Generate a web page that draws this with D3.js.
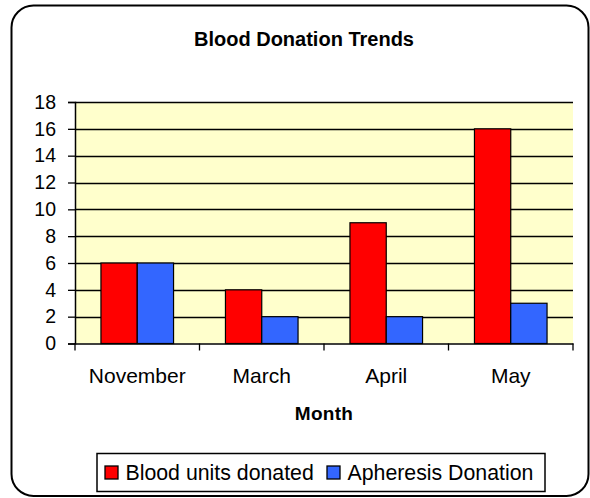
<!DOCTYPE html>
<html><head><meta charset="utf-8">
<script src="https://cdn.jsdelivr.net/npm/d3@7"></script>
<style>body{margin:0;background:#fff}svg{display:block}text{font-family:"Liberation Sans",Arial,sans-serif;fill:#000}</style>
</head><body><div id="c"></div>
<script>
const categories = ["November","March","April","May"];
const seriesNames = ["Blood units donated","Apheresis Donation"];
const bloodUnits = [6,4,9,16];
const apheresis = [6,2,2,3];
const yTicks = [0,2,4,6,8,10,12,14,16,18];
const colors = ["#FF0000","#3366FF"];

const W=590,H=498;
const svg=d3.select("#c").append("svg").attr("width",W).attr("height",H);
svg.append("rect").attr("x",11.5).attr("y",5.5).attr("width",577).attr("height",490.5)
  .attr("rx",22).attr("fill","#fff").attr("stroke","#000").attr("stroke-width",2);

const L=75,R=573,T=102,B=343.5;
const x=d3.scaleBand().domain(categories).range([L,R]).padding(0);
const xs=d3.scaleBand().domain(seriesNames).range([0,x.bandwidth()]).paddingInner(0).paddingOuter(0.715);
const y=d3.scaleLinear().domain([0,18]).range([B,T]);

svg.append("rect").attr("x",L).attr("y",T).attr("width",R-L).attr("height",B-T).attr("fill","#FFFFCC");
svg.append("g").selectAll("line").data(yTicks.filter(d=>d>0)).join("line")
  .attr("x1",L).attr("x2",R).attr("y1",d=>Math.round(y(d))+0.5).attr("y2",d=>Math.round(y(d))+0.5)
  .attr("stroke","#000").attr("stroke-width",1.3);

const data=categories.map((c,i)=>({c,vals:[bloodUnits[i],apheresis[i]]}));
const g=svg.append("g").selectAll("g").data(data).join("g").attr("transform",d=>`translate(${x(d.c)},0)`);
g.selectAll("rect").data(d=>d.vals.map((v,j)=>({v,s:seriesNames[j],j}))).join("rect")
  .attr("x",d=>xs(d.s)).attr("width",xs.bandwidth()).attr("y",d=>y(d.v)).attr("height",d=>B-y(d.v))
  .attr("fill",d=>colors[d.j]).attr("stroke","#000").attr("stroke-width",1.2);

// y axis
const ya=svg.append("g").attr("transform",`translate(${L},0)`)
  .call(d3.axisLeft(y).tickValues(yTicks).tickSize(7).tickPadding(12));
ya.select(".domain").attr("stroke-width",1.5);
ya.selectAll(".tick line").attr("stroke-width",1.3);
ya.selectAll("text").attr("font-size","19.5px").attr("font-family","Liberation Sans, Arial, sans-serif");

// x axis
const xa=svg.append("g").attr("transform",`translate(0,${B})`)
  .call(d3.axisBottom(x).tickSize(0).tickPadding(0).tickFormat(""));
xa.select(".domain").attr("stroke-width",1.5);
const bounds=[...categories.map(c=>x(c)),R];
xa.selectAll(".bt").data(bounds).join("line").attr("class","bt")
  .attr("x1",d=>d).attr("x2",d=>d).attr("y1",0).attr("y2",7).attr("stroke","#000").attr("stroke-width",1.3);
svg.append("g").selectAll("text").data(categories).join("text")
  .attr("x",d=>x(d)+x.bandwidth()/2).attr("y",383).attr("text-anchor","middle")
  .attr("font-size","21px").text(d=>d);

svg.append("text").attr("x",(L+R)/2).attr("y",420).attr("text-anchor","middle")
  .attr("font-size","19px").attr("font-weight","bold").attr("letter-spacing","0.3px").text("Month");
svg.append("text").attr("x",304).attr("y",46).attr("text-anchor","middle")
  .attr("font-size","20px").attr("font-weight","bold").text("Blood Donation Trends");

// legend
svg.append("rect").attr("x",97).attr("y",453.5).attr("width",448).attr("height",38)
  .attr("fill","#fff").attr("stroke","#000").attr("stroke-width",1.5);
const lx=[105,327];
const lg=svg.append("g").selectAll("g").data(seriesNames).join("g").attr("transform",(d,i)=>`translate(${lx[i]},0)`);
lg.append("rect").attr("x",0).attr("y",466).attr("width",13).attr("height",13)
  .attr("fill",(d,i)=>colors[i]).attr("stroke","#000").attr("stroke-width",1.3);
lg.append("text").attr("x",20.5).attr("y",480).attr("font-size","21.3px").text(d=>d);
</script></body></html>
